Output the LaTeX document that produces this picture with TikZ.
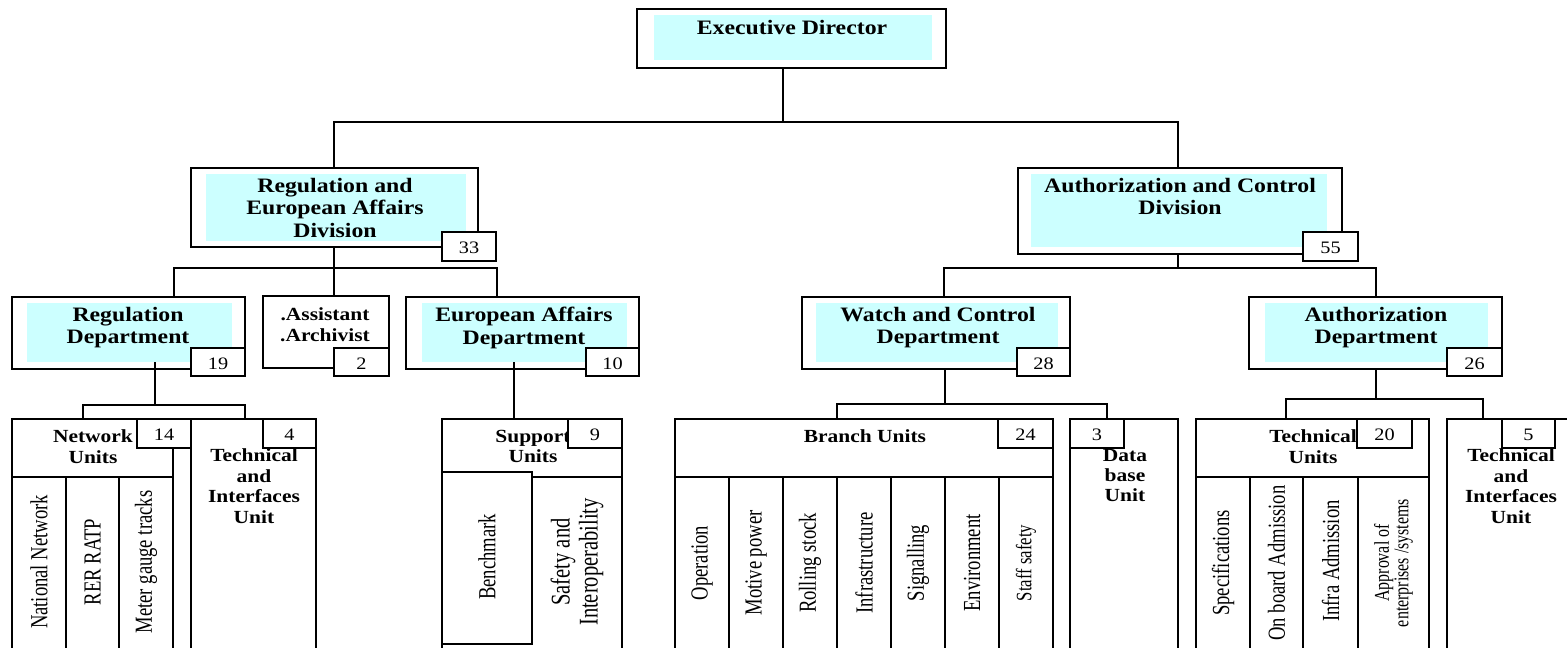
\documentclass[tikz,border=0pt]{standalone}
\usepackage{fontspec}
\setmainfont{Liberation Serif}
\newfontfamily\hdfont{Liberation Serif}[FakeStretch=1.16]
\newfontfamily\rotfont{Liberation Serif}[FakeStretch=0.76]
\usetikzlibrary{fit}
\definecolor{cy}{RGB}{204,255,255}
\tikzset{
  box/.style={draw, line width=1.8pt, fill=white, inner sep=0pt},
  shade/.style={fill=cy, draw=none, inner sep=0pt},
  numbox/.style={draw, line width=1.8pt, fill=white, inner sep=0pt},
  numtxt/.style={font=\hdfont\fontsize{17.5}{20}\selectfont, inner sep=0pt, anchor=center},
  hd/.style={font=\hdfont\bfseries\fontsize{20.5}{22.5}\selectfont, align=center, inner sep=0pt, anchor=north},
  ut/.style={font=\hdfont\bfseries\fontsize{18.5}{20.5}\selectfont, align=center, inner sep=0pt, anchor=north},
  rt/.style={font=\rotfont\fontsize{24.5}{26}\selectfont, rotate=90, inner sep=0pt, align=center},
  conn/.style={line width=1.8pt},
  sep/.style={line width=1.8pt}
}
\newcommand{\numb}[4]{%
  \node[numbox, fit={#2 #3}] (#1) {};
  \node[numtxt] (#1t) at ([yshift=-1.5pt]#1.center) {#4};
}
\begin{document}
\begin{tikzpicture}[x=1pt,y=-1pt]
\useasboundingbox (0,0) rectangle (1567,648);
\clip (0,0) rectangle (1567,648);

% ---------- boxes ----------
\node[box, fit={(637,9) (946,68)}] (exec) {};
\node[shade, fit={(654,15) (932,60)}] (execf) {};

\node[box, fit={(191,168) (478,247)}] (ldiv) {};
\node[shade, fit={(206,174) (466,241)}] (ldivf) {};

\node[box, fit={(1018,168) (1342,254)}] (rdiv) {};
\node[shade, fit={(1031,174) (1327,247)}] (rdivf) {};

\node[box, fit={(12,297) (245,369)}] (regd) {};
\node[shade, fit={(27,303) (232,362)}] (regdf) {};

\node[box, fit={(263,296) (389,368)}] (asst) {};

\node[box, fit={(406,297) (639,369)}] (eurd) {};
\node[shade, fit={(422,303) (627,362)}] (eurdf) {};

\node[box, fit={(802,297) (1070,369)}] (watd) {};
\node[shade, fit={(816,303) (1058,362)}] (watdf) {};

\node[box, fit={(1249,297) (1502,369)}] (autd) {};
\node[shade, fit={(1265,303) (1488,362)}] (autdf) {};

% units
\node[box, fit={(12,419) (173,700)}] (netu) {};
\node[box, fit={(191,419) (316,700)}] (tiu1) {};
\node[box, fit={(442,419) (622,700)}] (supu) {};
\node[box, fit={(442,472) (532,644)}] (bench) {};
\node[box, fit={(675,419) (1053,700)}] (bru) {};
\node[box, fit={(1070,419) (1178,700)}] (dbu) {};
\node[box, fit={(1196,419) (1429,700)}] (tcu) {};
\node[box, fit={(1447,419) (1600,700)}] (tiu2) {};

% dividers
\draw[sep] (netu.west |- 0,477) -- (netu.east |- 0,477);
\foreach \x in {66,119} \draw[sep] (\x,477) -- (\x,700);
\draw[sep] (532,477) -- (622,477);
\draw[sep] (bru.west |- 0,477) -- (bru.east |- 0,477);
\foreach \x in {729,783,837,891,945,999} \draw[sep] (\x,477) -- (\x,700);
\draw[sep] (tcu.west |- 0,477) -- (tcu.east |- 0,477);
\foreach \x in {1250,1303,1358} \draw[sep] (\x,477) -- (\x,700);

% ---------- connectors ----------
\draw[conn] (exec.south -| 783,0) -- (783,122);
\draw[conn] (ldiv.north -| 334,0) -- (334,122) -- (1178,122) -- (rdiv.north -| 1178,0);
\draw[conn] (ldiv.south -| 334,0) -- (asst.north -| 334,0);
\draw[conn] (regd.north -| 174,0) -- (174,268) -- (497,268) -- (eurd.north -| 497,0);
\draw[conn] (rdiv.south -| 1178,0) -- (1178,268);
\draw[conn] (watd.north -| 944,0) -- (944,268) -- (1376,268) -- (autd.north -| 1376,0);
\draw[conn] (regdf.south -| 155,0) -- (155,405);
\draw[conn] (netu.north -| 83,0) -- (83,405) -- (245,405) -- (tiu1.north -| 245,0);
\draw[conn] (eurdf.south -| 514,0) -- (supu.north -| 514,0);
\draw[conn] (watd.south -| 945,0) -- (945,404);
\draw[conn] (bru.north -| 837,0) -- (837,404) -- (1107,404) -- (dbu.north -| 1107,0);
\draw[conn] (autd.south -| 1376,0) -- (1376,399);
\draw[conn] (tcu.north -| 1286,0) -- (1286,399) -- (1483,399) -- (tiu2.north -| 1483,0);

% ---------- texts ----------
\node[hd] (exect) at (792,20.5) {Executive Director};
\node[hd] (ldivt) at (335,178) {Regulation and\\European Affairs\\Division};
\node[hd] (rdivt) at (1180,178) {Authorization and Control\\Division};
\node[hd] (regdt) at (128,307) {Regulation\\Department};
\node[ut] (asstt) at (325,307.5) {.Assistant\\.Archivist};
\node[hd] (eurdt) at (524,307) {European Affairs\\Department};
\node[hd] (watdt) at (938,307) {Watch and Control\\Department};
\node[hd] (autdt) at (1376,307) {Authorization\\Department};

\node[ut] (netut) at (93,429.5) {Network\\Units};
\node[ut] (tiu1t) at (254,448.5) {Technical\\and\\Interfaces\\Unit};
\node[ut] (suput) at (533,430) {Support\\Units};
\node[ut] (brut) at (865,429.5) {Branch Units};
\node[ut, font=\hdfont\bfseries\fontsize{18.5}{20}\selectfont] (dbut) at (1125,449.5) {Data\\base\\Unit};
\node[ut] (tcut) at (1313,429.5) {Technical\\Units};
\node[ut] (tiu2t) at (1511,448.5) {Technical\\and\\Interfaces\\Unit};

% rotated
\node[rt] (r1) at (39,562) {National Network};
\node[rt] (r2) at (92.5,562) {RER RATP};
\node[rt] (r3) at (146,562) {Meter gauge tracks};
\node[rt] (r4) at (487,557) {Benchmark};
\node[rt, font=\rotfont\fontsize{27}{28}\selectfont] (r5) at (577,562) {Safety and\\Interoperability};
\node[rt] (b1) at (702,563) {Operation};
\node[rt] (b2) at (756,563) {Motive power};
\node[rt] (b3) at (810,563) {Rolling stock};
\node[rt] (b4) at (864,563) {Infrastructure};
\node[rt] (b5) at (918,563) {Signalling};
\node[rt] (b6) at (972,563) {Environment};
\node[rt, font=\rotfont\fontsize{22}{24}\selectfont] (b7) at (1026,563) {Staff safety};
\node[rt] (t1) at (1223,563) {Specifications};
\node[rt] (t2) at (1276.5,563) {On board Admission};
\node[rt] (t3) at (1330.5,561) {Infra Admission};
\node[rt, font=\rotfont\fontsize{21}{18}\selectfont] (t4) at (1393.5,563) {Approval of\\enterprises /systems};

% ---------- number boxes ----------
\numb{ldivn}{(442,232)}{(496,261)}{33}
\numb{rdivn}{(1303,232)}{(1358,261)}{55}
\numb{regdn}{(191,348)}{(245,376)}{19}
\numb{asstn}{(334,348)}{(389,376)}{2}
\numb{eurdn}{(586,348)}{(639,376)}{10}
\numb{watdn}{(1017,348)}{(1070,376)}{28}
\numb{autdn}{(1447,348)}{(1502,376)}{26}
\numb{netun}{(137,419)}{(191,448)}{14}
\numb{tiu1n}{(263,419)}{(316,448)}{4}
\numb{supun}{(568,419)}{(622,448)}{9}
\numb{brun}{(998,419)}{(1053,448)}{24}
\numb{dbun}{(1070,419)}{(1124,448)}{3}
\numb{tcun}{(1357,419)}{(1412,448)}{20}
\numb{tiu2n}{(1502,419)}{(1555,448)}{5}
\end{tikzpicture}
\end{document}
